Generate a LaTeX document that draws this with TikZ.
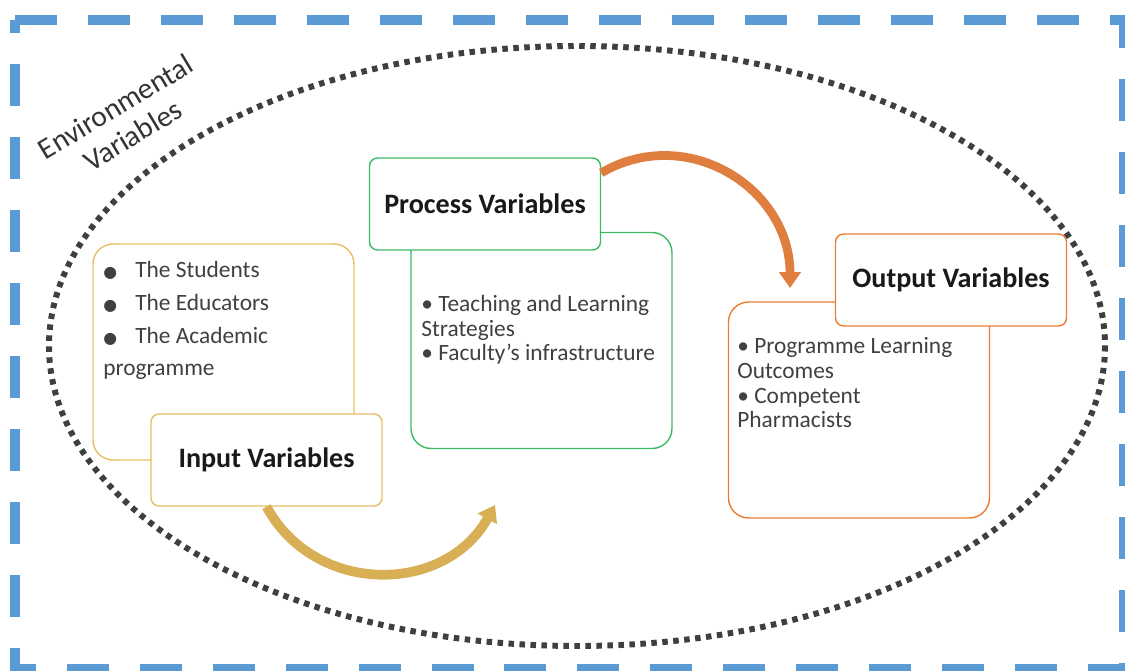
\documentclass[tikz,border=0pt]{standalone}
\usepackage{fontspec}
\setmainfont{Carlito}
\newfontfamily\symfont{DejaVu Sans}
\usetikzlibrary{arrows.meta}
\definecolor{frameblue}{HTML}{5B9BD5}
\definecolor{ringgray}{HTML}{3F3F3F}
\definecolor{inputgold}{HTML}{E9BE62}
\definecolor{arrowgold}{HTML}{D8AF55}
\definecolor{procgreen}{HTML}{3CBB65}
\definecolor{outorange}{HTML}{ED7D31}
\definecolor{arroworange}{HTML}{E07E40}
\definecolor{bodytext}{HTML}{404040}
\newcommand{\bigbul}{\makebox[18.2pt][l]{\fontsize{9}{9}\selectfont\symfont ●}}

\begin{document}
\begin{tikzpicture}[x=0.02cm, y=-0.02cm,
    backbox/.style={draw, rounded corners=0.4cm, inner sep=0pt, minimum width=5.22cm, minimum height=4.32cm, line width=0.8pt},
    headbox/.style={draw, fill=white, rounded corners=0.16cm, inner sep=0pt, minimum width=4.62cm, minimum height=1.84cm, line width=0.8pt, font=\bfseries\fontsize{16}{19}\selectfont, text=black!90},
    bodytxt/.style={anchor=base west, align=left, inner sep=0pt, text=bodytext, font=\fontsize{13.3}{14}\selectfont},
    flow/.style={line width=5.5pt, -{Triangle[width=12pt,length=9pt]}}]
    \useasboundingbox (0,0) rectangle (1125,671);

    % Frame and ring
    \draw[frameblue, line width=5.5pt, dash pattern=on 0.84cm off 0.62cm] (15,20) -- (1124,20) -- (1124,669) -- (15,669) -- cycle;
    \draw[ringgray, line width=3.4pt, dash pattern=on 0.11cm off 0.11cm] (577,346) ellipse [x radius=528, y radius=300];
    \node (envlabel) [rotate=31, align=center, text=black!80, font=\fontsize{16.8}{19}\selectfont] at (124,121) {Environmental\\Variables};

    % Input (base = last line)
    \node (inback) [backbox, draw=inputgold] at (223.5,352) {};
    \node (intext) [bodytxt, font=\fontsize{13.3}{18.6}\selectfont] at (103,376) {\bigbul The Students\\\bigbul The Educators\\\bigbul The Academic\\programme};
    \node (infront) [headbox, draw=inputgold] at (266.5,460) {Input Variables};

    % Process
    \node (procback) [backbox, draw=procgreen] at (541.5,340.5) {};
    \node (proctext) [bodytxt] at (421,361) {• Teaching and Learning\\Strategies\\• Faculty’s infrastructure};
    \node (procfront) [headbox, draw=procgreen] at (485,204) {Process Variables};

    % Output
    \node (outback) [backbox, draw=outorange] at (859,410) {};
    \node (outtext) [bodytxt, font=\fontsize{13.3}{14.2}\selectfont] at (737,428) {• Programme Learning\\Outcomes\\• Competent\\Pharmacists};
    \node (outfront) [headbox, draw=outorange] at (951,280) {Output Variables};

    % Arrows
    \coordinate (intip) at (495,505);
    \coordinate (outtip) at (790,288);
    \draw[flow, arrowgold] (infront.south) .. controls (315,596) and (445,595) .. (intip);
    \draw[flow, arroworange, line width=5pt] (procfront.15) .. controls (687,123) and (790,188) .. (outtip);
\end{tikzpicture}
\end{document}
